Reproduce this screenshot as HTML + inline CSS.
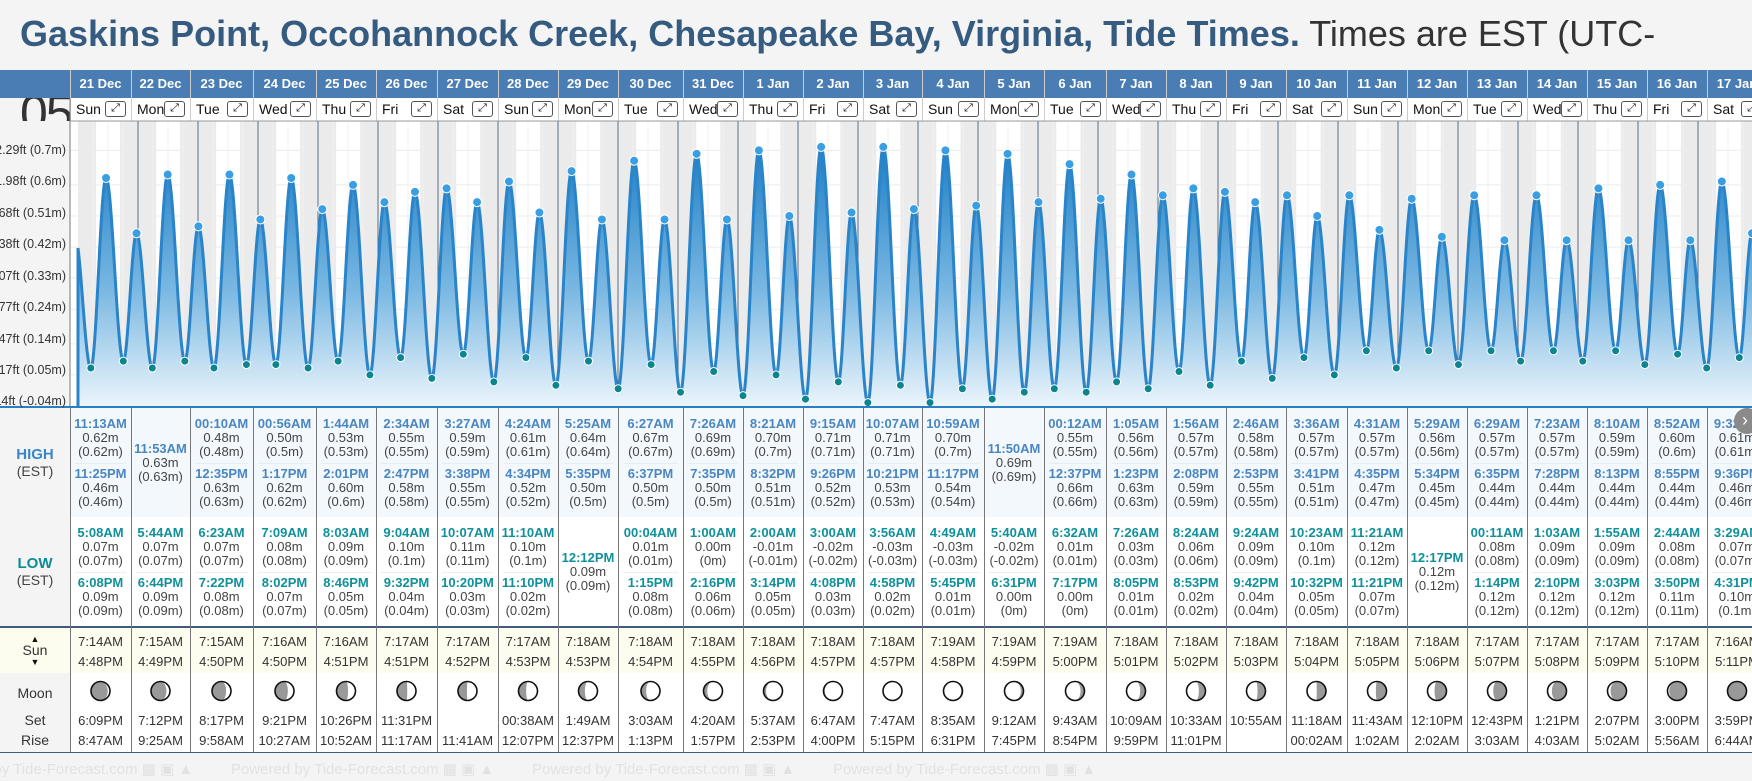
<!DOCTYPE html>
<html><head><meta charset="utf-8">
<style>
*{margin:0;padding:0;box-sizing:border-box}
body{width:1752px;height:781px;overflow:hidden;background:#f4f4f4;font-family:"Liberation Sans",Arial,sans-serif;position:relative}
.abs{position:absolute}
#title{left:20px;top:13px;font-size:36px;white-space:nowrap;color:#333}
#title b{color:#355c80}
.c{position:absolute;text-align:center;white-space:nowrap}
</style></head><body>
<div id="title" class="abs"><b>Gaskins Point, Occohannock Creek, Chesapeake Bay, Virginia, Tide Times.</b> Times are EST (UTC-</div>
<div class="abs" style="left:0;top:98px;width:70px;height:23px;overflow:hidden"><div style="position:absolute;left:20px;top:-14px;font-size:50px;color:#333;letter-spacing:-2px">05:</div></div>
<div id="root"></div>
<svg id="chart" class="abs" style="left:0;top:0" width="1752" height="781"></svg>
<script>
const B=[70,131,190,253,316,376,437,498,558,618,683,743,803,863,922,984,1044,1106,1166,1226,1286,1347,1407,1467,1527,1587,1647,1707,1767];
const dates=["21 Dec","22 Dec","23 Dec","24 Dec","25 Dec","26 Dec","27 Dec","28 Dec","29 Dec","30 Dec","31 Dec","1 Jan","2 Jan","3 Jan","4 Jan","5 Jan","6 Jan","7 Jan","8 Jan","9 Jan","10 Jan","11 Jan","12 Jan","13 Jan","14 Jan","15 Jan","16 Jan","17 Jan"];
const dn=["Sun","Mon","Tue","Wed","Thu","Fri","Sat"];
const H=[[["11:13AM","0.62"],["11:25PM","0.46"]],[["11:53AM","0.63"]],[["00:10AM","0.48"],["12:35PM","0.63"]],[["00:56AM","0.50"],["1:17PM","0.62"]],[["1:44AM","0.53"],["2:01PM","0.60"]],[["2:34AM","0.55"],["2:47PM","0.58"]],[["3:27AM","0.59"],["3:38PM","0.55"]],[["4:24AM","0.61"],["4:34PM","0.52"]],[["5:25AM","0.64"],["5:35PM","0.50"]],[["6:27AM","0.67"],["6:37PM","0.50"]],[["7:26AM","0.69"],["7:35PM","0.50"]],[["8:21AM","0.70"],["8:32PM","0.51"]],[["9:15AM","0.71"],["9:26PM","0.52"]],[["10:07AM","0.71"],["10:21PM","0.53"]],[["10:59AM","0.70"],["11:17PM","0.54"]],[["11:50AM","0.69"]],[["00:12AM","0.55"],["12:37PM","0.66"]],[["1:05AM","0.56"],["1:23PM","0.63"]],[["1:56AM","0.57"],["2:08PM","0.59"]],[["2:46AM","0.58"],["2:53PM","0.55"]],[["3:36AM","0.57"],["3:41PM","0.51"]],[["4:31AM","0.57"],["4:35PM","0.47"]],[["5:29AM","0.56"],["5:34PM","0.45"]],[["6:29AM","0.57"],["6:35PM","0.44"]],[["7:23AM","0.57"],["7:28PM","0.44"]],[["8:10AM","0.59"],["8:13PM","0.44"]],[["8:52AM","0.60"],["8:55PM","0.44"]],[["9:32AM","0.61"],["9:36PM","0.46"]]];
const L=[[["5:08AM","0.07"],["6:08PM","0.09"]],[["5:44AM","0.07"],["6:44PM","0.09"]],[["6:23AM","0.07"],["7:22PM","0.08"]],[["7:09AM","0.08"],["8:02PM","0.07"]],[["8:03AM","0.09"],["8:46PM","0.05"]],[["9:04AM","0.10"],["9:32PM","0.04"]],[["10:07AM","0.11"],["10:20PM","0.03"]],[["11:10AM","0.10"],["11:10PM","0.02"]],[["12:12PM","0.09"]],[["00:04AM","0.01"],["1:15PM","0.08"]],[["1:00AM","0.00"],["2:16PM","0.06"]],[["2:00AM","-0.01"],["3:14PM","0.05"]],[["3:00AM","-0.02"],["4:08PM","0.03"]],[["3:56AM","-0.03"],["4:58PM","0.02"]],[["4:49AM","-0.03"],["5:45PM","0.01"]],[["5:40AM","-0.02"],["6:31PM","0.00"]],[["6:32AM","0.01"],["7:17PM","0.00"]],[["7:26AM","0.03"],["8:05PM","0.01"]],[["8:24AM","0.06"],["8:53PM","0.02"]],[["9:24AM","0.09"],["9:42PM","0.04"]],[["10:23AM","0.10"],["10:32PM","0.05"]],[["11:21AM","0.12"],["11:21PM","0.07"]],[["12:17PM","0.12"]],[["00:11AM","0.08"],["1:14PM","0.12"]],[["1:03AM","0.09"],["2:10PM","0.12"]],[["1:55AM","0.09"],["3:03PM","0.12"]],[["2:44AM","0.08"],["3:50PM","0.11"]],[["3:29AM","0.07"],["4:31PM","0.10"]]];
const S=[["7:14AM","4:48PM"],["7:15AM","4:49PM"],["7:15AM","4:50PM"],["7:16AM","4:50PM"],["7:16AM","4:51PM"],["7:17AM","4:51PM"],["7:17AM","4:52PM"],["7:17AM","4:53PM"],["7:18AM","4:53PM"],["7:18AM","4:54PM"],["7:18AM","4:55PM"],["7:18AM","4:56PM"],["7:18AM","4:57PM"],["7:18AM","4:57PM"],["7:19AM","4:58PM"],["7:19AM","4:59PM"],["7:19AM","5:00PM"],["7:18AM","5:01PM"],["7:18AM","5:02PM"],["7:18AM","5:03PM"],["7:18AM","5:04PM"],["7:18AM","5:05PM"],["7:18AM","5:06PM"],["7:17AM","5:07PM"],["7:17AM","5:08PM"],["7:17AM","5:09PM"],["7:17AM","5:10PM"],["7:16AM","5:11PM"]];
const M=[["6:09PM","8:47AM"],["7:12PM","9:25AM"],["8:17PM","9:58AM"],["9:21PM","10:27AM"],["10:26PM","10:52AM"],["11:31PM","11:17AM"],["","11:41AM"],["00:38AM","12:07PM"],["1:49AM","12:37PM"],["3:03AM","1:13PM"],["4:20AM","1:57PM"],["5:37AM","2:53PM"],["6:47AM","4:00PM"],["7:47AM","5:15PM"],["8:35AM","6:31PM"],["9:12AM","7:45PM"],["9:43AM","8:54PM"],["10:09AM","9:59PM"],["10:33AM","11:01PM"],["10:55AM",""],["11:18AM","00:02AM"],["11:43AM","1:02AM"],["12:10PM","2:02AM"],["12:43PM","3:03AM"],["1:21PM","4:03AM"],["2:07PM","5:02AM"],["3:00PM","5:56AM"],["3:59PM","6:44AM"]];
function hrs(s){let m=s.match(/(\d+):(\d+)(AM|PM)/);let h=+m[1],mi=+m[2];if(m[3]=="AM"){if(h==12)h=0}else{if(h!=12)h+=12}return h+mi/60}
let html="";
const root=document.getElementById("root");
html+=`<div class="abs" style="left:0;top:70px;width:1752px;height:28px;background:#4a7db3"></div>`;
html+=`<div class="abs" style="left:70px;top:98px;width:1682px;height:23px;background:#fff"></div>`;
html+=`<div class="abs" style="left:70px;top:408px;width:1682px;height:109px;background:#f3f8fd"></div>`;
html+=`<div class="abs" style="left:70px;top:517px;width:1682px;height:109px;background:#fff"></div>`;
html+=`<div class="abs" style="left:0;top:627px;width:1752px;height:46px;background:#fdfdef"></div>`;
html+=`<div class="abs" style="left:70px;top:673px;width:1682px;height:79px;background:#fff"></div>`;
html+=`<div class="abs" style="left:0;top:626px;width:1752px;height:2px;background:#3f5c7a"></div>`;
html+=`<div class="abs" style="left:0;top:752px;width:1752px;height:1px;background:#3f5c7a"></div>`;
html+=`<div class="abs" style="left:0;top:406px;width:1752px;height:2px;background:#2a7fc4"></div>`;
html+=`<div class="c" style="left:0;top:446px;width:70px;font-size:15px;font-weight:bold;color:#3a86c8">HIGH</div><div class="c" style="left:0;top:463px;width:70px;font-size:14px;color:#444">(EST)</div>`;
html+=`<div class="c" style="left:0;top:555px;width:70px;font-size:15px;font-weight:bold;color:#0e8a94">LOW</div><div class="c" style="left:0;top:572px;width:70px;font-size:14px;color:#444">(EST)</div>`;
html+=`<div class="c" style="left:0;top:634px;width:70px;font-size:9px;color:#111">▲</div><div class="c" style="left:0;top:642px;width:70px;font-size:14px;color:#333">Sun</div><div class="c" style="left:0;top:657px;width:70px;font-size:9px;color:#111">▼</div>`;
html+=`<div class="c" style="left:0;top:685px;width:70px;font-size:14px;color:#333">Moon</div><div class="c" style="left:0;top:712px;width:70px;font-size:14px;color:#333">Set</div><div class="c" style="left:0;top:732px;width:70px;font-size:14px;color:#333">Rise</div>`;
for(let i=0;i<4;i++)html+=`<div class="abs" style="left:${-70+i*301}px;top:760px;font-size:15px;color:#e2e2e2;white-space:nowrap">Powered by Tide-Forecast.com ▩ ▣ ▲</div>`;
function entry(x,w,y,t,v,col){return `<div class="c" style="left:${x}px;top:${y}px;width:${w}px;font-size:13px;line-height:14px"><b style="color:${col}">${t}</b><br><span style="color:#444">${v}m<br>(${String(parseFloat(v))}m)</span></div>`}
for(let i=0;i<28;i++){
 const x=B[i],w=B[i+1]-B[i];
 html+=`<div class="c" style="left:${x}px;top:76px;width:${w}px;font-size:13px;font-weight:bold;color:#fff">${dates[i]}</div>`;
 html+=`<div class="abs" style="left:${x+6}px;top:101px;font-size:14px;color:#111">${dn[i%7]}</div>`;
 html+=`<div class="abs" style="left:${x+w-26}px;top:101px;width:21px;height:16px;border:1px solid #555;border-radius:3px;font-size:11px;line-height:13px;text-align:center;color:#111">⤢</div>`;
 html+=`<div class="abs" style="left:${x}px;top:70px;width:1px;height:51px;background:#ccc"></div>`;
 html+=`<div class="abs" style="left:${x}px;top:408px;width:1px;height:344px;background:#777"></div>`;
 const h=H[i];
 if(h.length==2){html+=entry(x,w,417,h[0][0],h[0][1],"#4a86c0")+entry(x,w,467,h[1][0],h[1][1],"#4a86c0");
  html+=`<div class="abs" style="left:${x+5}px;top:463px;width:${w-10}px;height:1px;background:#e6edf4"></div>`}
 else html+=entry(x,w,442,h[0][0],h[0][1],"#4a86c0");
 const l=L[i];
 if(l.length==2){html+=entry(x,w,526,l[0][0],l[0][1],"#10909a")+entry(x,w,576,l[1][0],l[1][1],"#10909a");
  html+=`<div class="abs" style="left:${x+5}px;top:572px;width:${w-10}px;height:1px;background:#eee"></div>`}
 else html+=entry(x,w,551,l[0][0],l[0][1],"#10909a");
 html+=`<div class="c" style="left:${x}px;top:634px;width:${w}px;font-size:13px;color:#333">${S[i][0]}</div><div class="c" style="left:${x}px;top:654px;width:${w}px;font-size:13px;color:#333">${S[i][1]}</div>`;
 html+=`<div class="c" style="left:${x}px;top:713px;width:${w}px;font-size:13px;color:#333">${M[i][0]}</div><div class="c" style="left:${x}px;top:733px;width:${w}px;font-size:13px;color:#333">${M[i][1]}</div>`;
 let f=i<=13?Math.min(1,0.12+i*0.068):Math.max(0.02,1-(i-13)*0.07);
 const cx=x+w/2,cy=691,r=9.5,rx=r*Math.abs(1-2*f);
 let p;
 if(i<=13)p=`M${cx},${cy-r}A${r},${r} 0 0 1 ${cx},${cy+r}A${rx},${r} 0 0 ${f>0.5?1:0} ${cx},${cy-r}Z`;
 else p=`M${cx},${cy-r}A${r},${r} 0 0 0 ${cx},${cy+r}A${rx},${r} 0 0 ${f>0.5?0:1} ${cx},${cy-r}Z`;
 html+=`<svg class="abs" style="left:0;top:0;overflow:visible" width="1" height="1"><circle cx="${cx}" cy="${cy}" r="${r}" fill="#999"/><path d="${p}" fill="#fff"/><circle cx="${cx}" cy="${cy}" r="${r}" fill="none" stroke="#111" stroke-width="1.6"/></svg>`;
}
html+=`<div class="abs" style="left:70px;top:70px;width:1px;height:51px;background:#ccc"></div>`;
html+=`<div class="abs" style="left:1734px;top:408px;width:26px;height:26px;border-radius:13px;background:#8a8a8a;color:#fff;font-size:18px;line-height:24px;padding-left:8px">›</div>`;
root.innerHTML=html;
const X=t=>78+t*2.5, Y=m=>178+(0.62-m)*345.5;
let s="";
s+=`<defs><linearGradient id="g" x1="0" y1="150" x2="0" y2="405" gradientUnits="userSpaceOnUse"><stop offset="0" stop-color="#1f7fc6"/><stop offset="0.55" stop-color="#7ab8e2"/><stop offset="1" stop-color="#eaf4fb"/></linearGradient><clipPath id="cp"><rect x="70" y="121" width="1682" height="285"/></clipPath></defs>`;
s+=`<g clip-path="url(#cp)"><rect x="70" y="121" width="1682" height="285" fill="#fff"/>`;
for(let i=0;i<28;i++){const a=X(i*24),sr=X(i*24+hrs(S[i][0])),ss=X(i*24+hrs(S[i][1]));
 s+=`<rect x="${a}" y="121" width="${sr-a}" height="285" fill="#ebebeb"/><rect x="${ss}" y="121" width="${X(i*24+24)-ss}" height="285" fill="#ebebeb"/>`;
 for(let k=1;k<4;k++)s+=`<line x1="${X(i*24+k*6)}" y1="121" x2="${X(i*24+k*6)}" y2="406" stroke="#f2f2f2" stroke-width="1"/>`;}
for(const m of [0.7,0.6,0.51,0.42,0.33,0.24,0.14,0.05])s+=`<line x1="70" y1="${Y(m)}" x2="1752" y2="${Y(m)}" stroke="#ececec" stroke-width="1"/>`;
for(let i=1;i<28;i++)s+=`<line x1="${X(i*24)}" y1="121" x2="${X(i*24)}" y2="406" stroke="#5a6f85" stroke-width="1"/>`;
let E=[[-1.4,0.46,0]];
for(let i=0;i<28;i++){for(const e of H[i])E.push([i*24+hrs(e[0]),+e[1],1]);for(const e of L[i])E.push([i*24+hrs(e[0]),+e[1],2]);}
E.sort((a,b)=>a[0]-b[0]);E.push([E[E.length-1][0]+6.2,0.08,0]);
function val(t){for(let k=0;k<E.length-1;k++){if(t>=E[k][0]&&t<=E[k+1][0]){const u=(t-E[k][0])/(E[k+1][0]-E[k][0]);return E[k][1]+(E[k+1][1]-E[k][1])*(1-Math.cos(Math.PI*u))/2}}return 0.1}
let pts=[];for(let t=0;t<=680;t+=0.2)pts.push(X(t).toFixed(1)+","+Y(val(t)).toFixed(1));
s+=`<path d="M78,406L${pts.join("L")}L1760,406Z" fill="url(#g)"/>`;
s+=`<path d="M78,406L${pts.join("L")}" fill="none" stroke="#2a84c9" stroke-width="3"/>`;
for(const e of E){if(!e[2])continue;s+=`<circle cx="${X(e[0])}" cy="${Y(e[1])}" r="${e[2]==1?4.5:4}" fill="${e[2]==1?'#3a9ee3':'#0d8590'}" stroke="#fff" stroke-width="1"/>`}
s+=`</g><line x1="70" y1="98" x2="70" y2="406" stroke="#777"/><line x1="70" y1="121" x2="1752" y2="121" stroke="#999"/>`;
const lab=["2.29ft (0.7m)","1.98ft (0.6m)","1.68ft (0.51m)","1.38ft (0.42m)","1.07ft (0.33m)","0.77ft (0.24m)","0.47ft (0.14m)","0.17ft (0.05m)","-0.14ft (-0.04m)"];
const yl=[149,180,212,243,275,306,338,369,400];
lab.forEach((l,k)=>{s+=`<text x="66" y="${yl[k]+5}" text-anchor="end" font-size="12.5" fill="#333" font-family="Liberation Sans,sans-serif">${l}</text>`});
document.getElementById("chart").innerHTML=s;
</script>
</body></html>
